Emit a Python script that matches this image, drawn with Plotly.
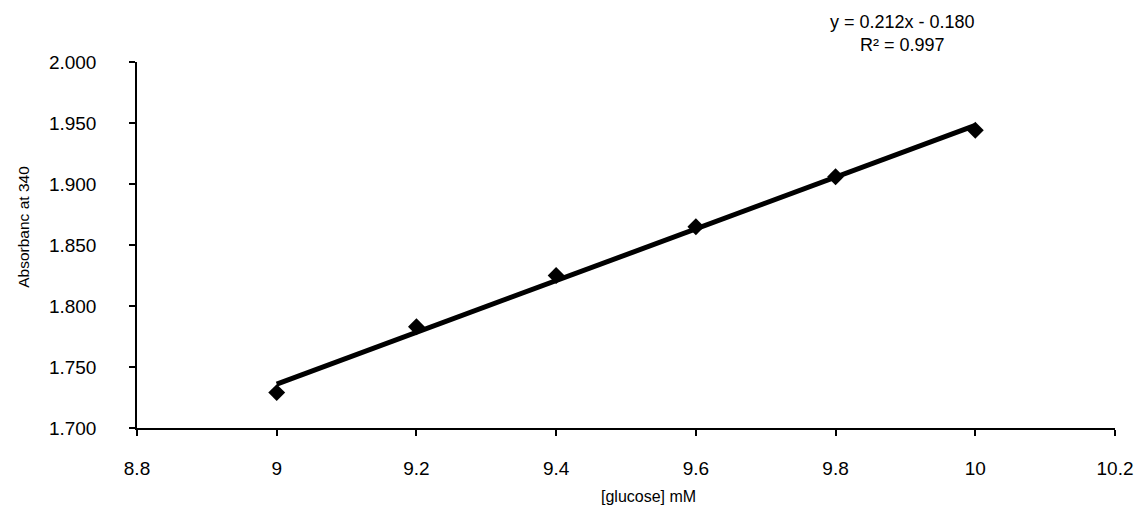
import numpy as np
import plotly.graph_objects as go

glucose_mM = [9.0, 9.2, 9.4, 9.6, 9.8, 10.0]
absorbance = [1.729, 1.783, 1.825, 1.865, 1.906, 1.944]
x_ticks = [8.8, 9, 9.2, 9.4, 9.6, 9.8, 10, 10.2]
x_tick_labels = ["8.8", "9", "9.2", "9.4", "9.6", "9.8", "10", "10.2"]
y_ticks = [1.70, 1.75, 1.80, 1.85, 1.90, 1.95, 2.00]
y_tick_labels = ["1.700", "1.750", "1.800", "1.850", "1.900", "1.950", "2.000"]
equation_text = "y = 0.212x - 0.180<br>R² = 0.997"

slope, intercept = np.polyfit(glucose_mM, absorbance, 1)
trend_x = [min(glucose_mM), max(glucose_mM)]
trend_y = [slope * v + intercept for v in trend_x]

FONT = "Liberation Sans, Arial, sans-serif"

fig = go.Figure()
fig.add_trace(go.Scatter(
    x=glucose_mM, y=absorbance, mode="markers",
    marker=dict(symbol="diamond", size=13, color="black"),
    showlegend=False, hoverinfo="x+y"))
fig.add_trace(go.Scatter(
    x=trend_x, y=trend_y, mode="lines",
    line=dict(color="black", width=5),
    showlegend=False, hoverinfo="skip"))

# page body has an 8px margin; figure is sized to fit inside the window
fig.update_layout(
    width=1127, height=499,
    margin=dict(l=129, r=20, t=54, b=79),
    paper_bgcolor="white", plot_bgcolor="white",
    font=dict(family=FONT, size=19, color="black"),
    xaxis=dict(
        range=[8.8, 10.2], tickmode="array", tickvals=x_ticks, ticktext=x_tick_labels,
        showgrid=False, zeroline=False, showline=True, linecolor="black", linewidth=1.5,
        ticks="outside", ticklen=6, tickcolor="black", tickwidth=1.5,
        ticklabelstandoff=16, tickfont=dict(size=19, family=FONT), automargin=False,
    ),
    yaxis=dict(
        range=[1.70, 2.00], tickmode="array", tickvals=y_ticks, ticktext=y_tick_labels,
        showgrid=False, zeroline=False, showline=True, linecolor="black", linewidth=1.5,
        ticks="outside", ticklen=6, tickcolor="black", tickwidth=1.5,
        ticklabelstandoff=29, tickfont=dict(size=19, family=FONT), automargin=False,
    ),
    annotations=[
        dict(text="Absorbanc at 340", xref="paper", yref="paper",
             x=-0.1155, y=0.55, xanchor="center", yanchor="middle",
             textangle=-90, showarrow=False, font=dict(size=15.5, family=FONT)),
        dict(text="[glucose] mM", xref="paper", yref="paper",
             x=0.5225, y=-0.186, xanchor="center", yanchor="middle",
             showarrow=False, font=dict(size=16, family=FONT)),
        dict(text=equation_text, xref="paper", yref="paper",
             x=0.783, y=1.141, xanchor="center", yanchor="top",
             showarrow=False, font=dict(size=18, family=FONT)),
    ],
)

fig.write_html("out.html")
